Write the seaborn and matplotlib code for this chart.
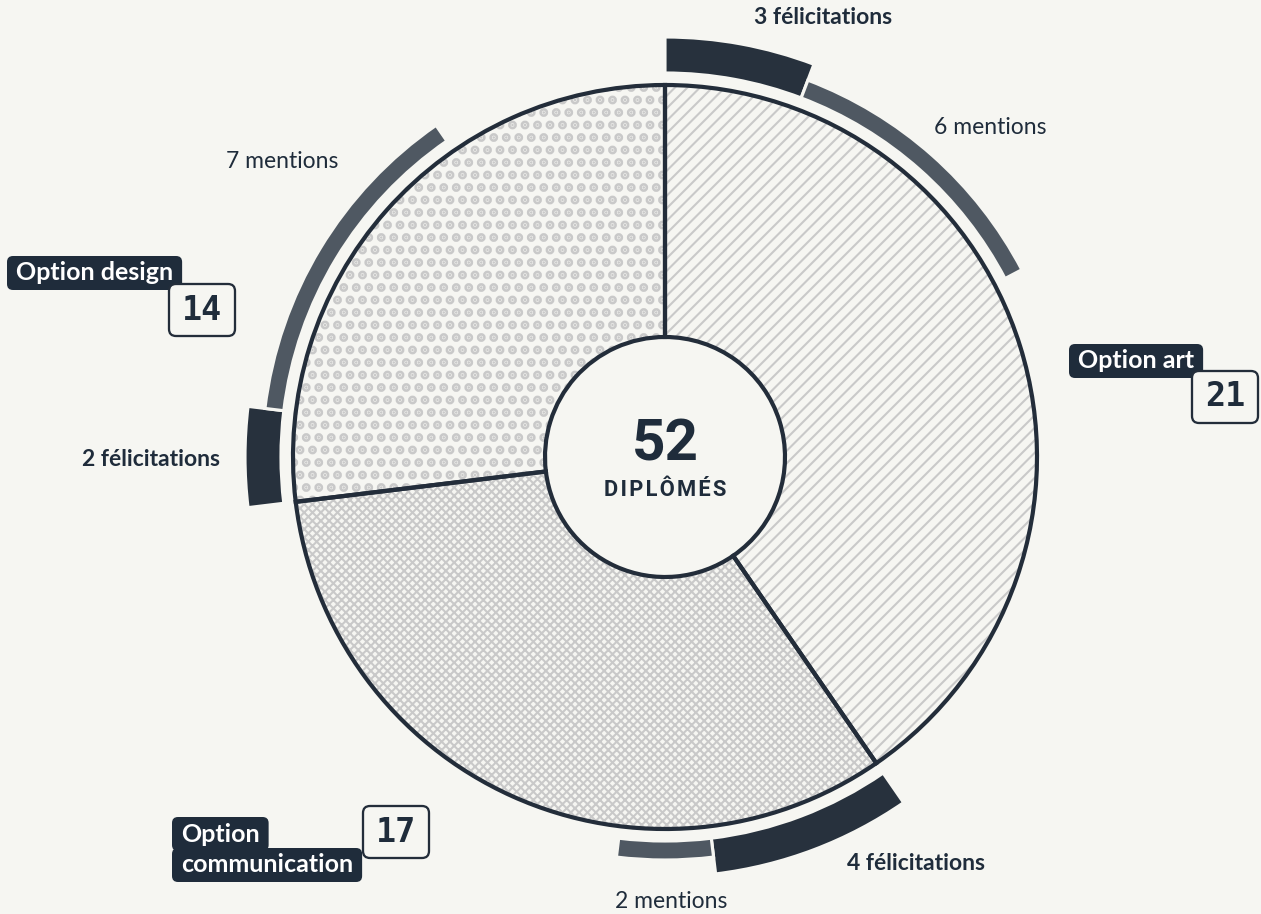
import matplotlib
matplotlib.use("Agg")
import matplotlib.pyplot as plt
from matplotlib.patches import FancyBboxPatch
import seaborn as sns

# data
options = ["Option art", "Option\ncommunication", "Option design"]
diplomes = [21, 17, 14]
felicitations = [3, 4, 2]
mentions = [6, 2, 7]
hatches = ["////", "xxxxxx", ".."]

BG = "#f6f6f2"
DARK = "#27313d"
GREY = "#4f5862"
LINE = "#232d3a"
HATCH = "#c9c9c9"
LABEL_BOX = "#1f2c3b"

sns.set_theme(style="white", rc={"figure.facecolor": BG, "axes.facecolor": BG,
                                 "savefig.facecolor": BG})
plt.rcParams["font.family"] = ["Lato", "DejaVu Sans"]
plt.rcParams["hatch.linewidth"] = 1.0

W, H, DPI = 1261, 914, 150
fig = plt.figure(figsize=(W / DPI, H / DPI), dpi=DPI)
ax = fig.add_axes([0, 0, 1, 1])


def py(y):
    # pixel row (from top) -> data y
    return H - y


CX, CY = 665, py(457)
R_OUT, R_IN = 372, 120

# hatched donut
wedges, _ = ax.pie(diplomes, startangle=90, counterclock=False, center=(CX, CY),
                   radius=R_OUT, colors=[BG] * 3, hatch=hatches,
                   wedgeprops=dict(width=R_OUT - R_IN, edgecolor=HATCH, linewidth=0))
for w, hl in zip(wedges, [1.0, 1.0, 3.0]):
    if hasattr(w, "set_hatch_linewidth"):
        w.set_hatch_linewidth(hl)

# outlines
ax.pie(diplomes, startangle=90, counterclock=False, center=(CX, CY), radius=R_OUT,
       colors=["none"] * 3,
       wedgeprops=dict(width=R_OUT - R_IN, edgecolor=LINE, linewidth=2.0))

# outer ring: félicitations then mentions inside each option
ring = []
for f, m, d in zip(felicitations, mentions, diplomes):
    ring += [f, m, d - f - m]

fel_w, _ = ax.pie(ring, startangle=90, counterclock=False, center=(CX, CY), radius=420,
                  colors=[DARK] * len(ring),
                  wedgeprops=dict(width=36, edgecolor=BG, linewidth=1.5))
men_w, _ = ax.pie(ring, startangle=90, counterclock=False, center=(CX, CY), radius=403,
                  colors=[GREY] * len(ring),
                  wedgeprops=dict(width=19, edgecolor=BG, linewidth=1.5))
for i, w in enumerate(fel_w):
    w.set_visible(i % 3 == 0)
for i, w in enumerate(men_w):
    w.set_visible(i % 3 == 1)

ax.set_xlim(0, W)
ax.set_ylim(0, H)
ax.set_aspect("equal")
ax.axis("off")

# centre
ax.text(CX, py(445), str(sum(diplomes)), ha="center", va="center", fontsize=28,
        fontweight="bold", color=LABEL_BOX, family=["Roboto", "DejaVu Sans"])
ax.text(CX, py(490), "\u200a".join("DIPLÔMÉS"), ha="center",
        va="center", fontsize=10.5, fontweight="bold", color=LABEL_BOX,
        family=["Roboto", "DejaVu Sans"])

# option labels: dark tag + outlined count box
label_pos = [(1078, 361), (181, 834), (16, 273)]
number_pos = [(1225, 397), (396, 832), (202, 310)]
renderer = fig.canvas.get_renderer()
for name, n, (lx, ly), (nx, ny) in zip(options, diplomes, label_pos, number_pos):
    for k, line in enumerate(name.split("\n")):
        t = ax.text(lx, py(ly + 31 * k), line, ha="left", va="center", fontsize=12,
                    fontweight="bold", color="white", zorder=5)
        bb = t.get_window_extent(renderer).transformed(ax.transData.inverted())
        ax.add_patch(FancyBboxPatch((bb.x0 - 9, py(ly + 31 * k) - 17), bb.width + 18, 34,
                                    boxstyle="round,pad=0,rounding_size=6",
                                    fc=LABEL_BOX, ec="none", zorder=4))
    ax.add_patch(FancyBboxPatch((nx - 33, py(ny) - 26), 66, 52,
                                boxstyle="round,pad=0,rounding_size=7",
                                fc=BG, ec=LINE, lw=1.1, zorder=6))
    ax.text(nx, py(ny), str(n), ha="center", va="center", fontsize=16,
            fontweight="bold", color=LABEL_BOX, zorder=7,
            family=["DejaVu Sans Mono"])

# outer ring labels
fel_pos = [(823, 18), (916, 864), (151, 459)]
men_pos = [(990, 128), (671, 902), (282, 161)]
for f, (x, y) in zip(felicitations, fel_pos):
    ax.text(x, py(y), f"{f} félicitations", ha="center", va="center", fontsize=11,
            fontweight="bold", color=LABEL_BOX)
for m, (x, y) in zip(mentions, men_pos):
    ax.text(x, py(y), f"{m} mentions", ha="center", va="center", fontsize=11,
            color=LABEL_BOX)

fig.savefig("out.png", dpi=DPI)
